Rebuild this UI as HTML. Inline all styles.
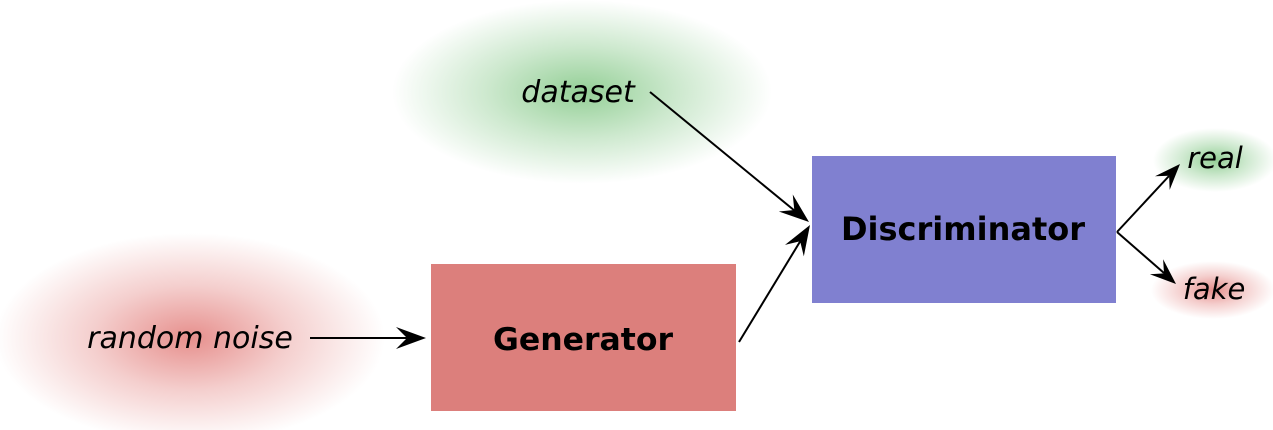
<!DOCTYPE html>
<html><head><meta charset="utf-8"><style>
html,body{margin:0;padding:0;background:#fff;width:1273px;height:430px;overflow:hidden}
text{font-family:"DejaVu Sans","Liberation Sans",sans-serif}
</style></head><body>
<svg width="1273" height="430" viewBox="0 0 1273 430" xmlns="http://www.w3.org/2000/svg">
<defs>
<radialGradient id="g"><stop offset="0" stop-color="#4caf50" stop-opacity="0.6"/><stop offset="0.5" stop-color="#4caf50" stop-opacity="0.28"/><stop offset="1" stop-color="#4caf50" stop-opacity="0"/></radialGradient>
<radialGradient id="r"><stop offset="0" stop-color="#d9534f" stop-opacity="0.65"/><stop offset="0.5" stop-color="#d9534f" stop-opacity="0.28"/><stop offset="1" stop-color="#d9534f" stop-opacity="0"/></radialGradient>
</defs>
<ellipse cx="582" cy="92" rx="190" ry="92" fill="url(#g)"/>
<ellipse cx="190" cy="338" rx="195" ry="105" fill="url(#r)"/>
<ellipse cx="1215" cy="160" rx="62" ry="32" fill="url(#g)"/>
<ellipse cx="1213" cy="290" rx="62" ry="29" fill="url(#r)"/>
<rect x="431" y="264" width="305" height="147" fill="#dc7f7c"/>
<rect x="812" y="156" width="304" height="147" fill="#8080d0"/>
<text x="583" y="350" font-size="31.5" font-weight="bold" text-anchor="middle">Generator</text>
<text x="963" y="240" font-size="32" font-weight="bold" text-anchor="middle">Discriminator</text>
<text x="190" y="348" font-size="30" font-style="italic" text-anchor="middle">random noise</text>
<text x="578" y="102" font-size="30" font-style="italic" text-anchor="middle">dataset</text>
<text x="1215" y="168" font-size="29" font-style="italic" text-anchor="middle">real</text>
<text x="1214" y="299" font-size="29" font-style="italic" text-anchor="middle">fake</text>
<g stroke="#000" stroke-width="2" fill="none">
<line x1="310" y1="338" x2="410" y2="338"/>
<line x1="650" y1="92" x2="795" y2="211"/>
<line x1="739" y1="342" x2="801" y2="240"/>
<line x1="1117" y1="232" x2="1169" y2="176"/>
<line x1="1117" y1="232" x2="1164" y2="273"/>
</g>
<g fill="#000">
<path d="M0,0 L-30,-11 L-19,0 L-30,11 Z" transform="translate(426,338)"/>
<path d="M0,0 L-30,-11 L-19,0 L-30,11 Z" transform="translate(809,222) rotate(39.3)"/>
<path d="M0,0 L-30,-11 L-19,0 L-30,11 Z" transform="translate(810,225) rotate(-58.7)"/>
<path d="M0,0 L-26,-10 L-16,0 L-26,10 Z" transform="translate(1180,164) rotate(-47.2)"/>
<path d="M0,0 L-26,-10 L-16,0 L-26,10 Z" transform="translate(1176,284) rotate(41.4)"/>
</g>
</svg>
</body></html>
